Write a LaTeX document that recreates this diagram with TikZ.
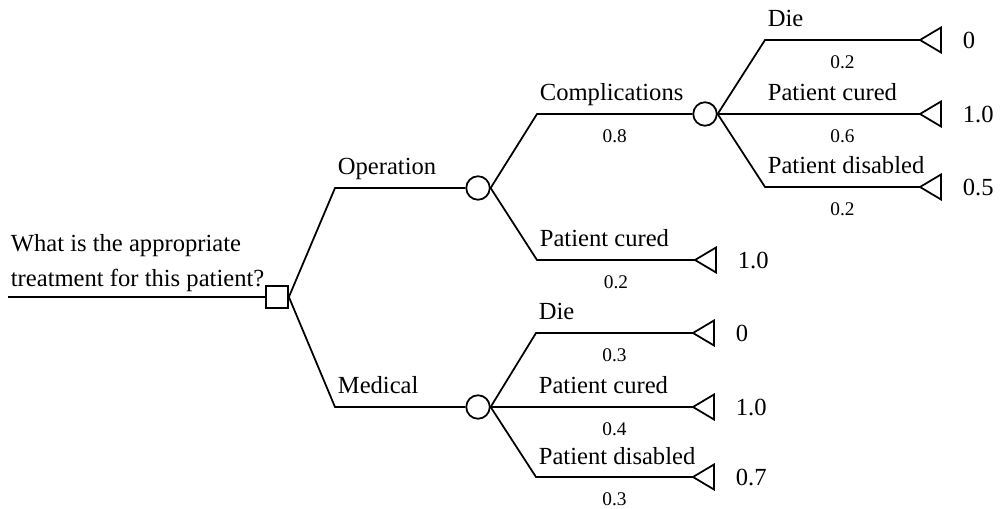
\documentclass[tikz,border=0pt]{standalone}
\usepackage{fontspec}
\setmainfont{Liberation Serif}
\usetikzlibrary{calc}
\tikzset{
  decision/.style={draw, rectangle, minimum size=0.44cm, inner sep=0pt},
  chance/.style={draw, circle, minimum size=0.47cm, inner sep=0pt},
  branchtext/.style={anchor=base west, inner sep=0pt, font=\fontsize{14}{17}\selectfont},
  proba/.style={anchor=north, inner sep=0pt, yshift=-8.5pt, font=\fontsize{11}{13}\selectfont},
  payoff/.style={anchor=west, inner sep=0pt, font=\fontsize{14}{17}\selectfont},
}

\begin{document}
\begin{tikzpicture}[x=0.02cm, y=-0.02cm, line width=1pt]
            \useasboundingbox (0,0) rectangle (1000,509);
            % decision
            \coordinate (start) at (8,297);
            \node[decision] (d) at (277,297) {};
            \draw (start) -- (d.west);
            \node[branchtext] (q1) at (10,252) {What is the appropriate};
            \node[branchtext] (q2) at (10,287) {treatment for this patient?};
            % first level
            \coordinate (op) at (335,188);
            \coordinate (med) at (335,407);
            \node[chance] (c1) at (478,188) {};
            \node[chance] (c3) at (478,407) {};
            \draw (d.east) -- (op) -- (c1);
            \draw (d.east) -- (med) -- (c3);
            \node[branchtext] (nop) at ($(op)+(2,-13)$) {Operation};
            \node[branchtext] (nmed) at ($(med)+(2,-13)$) {Medical};
            % complications
            \coordinate (comp) at (537,114);
            \node[chance] (c2) at (705,114) {};
            \draw (c1.east) -- (comp) -- node[proba] (pcomp) {0.8} (c2);
            \node[branchtext] (ncomp) at ($(comp)+(2,-13)$) {Complications};
            % outcomes
            \foreach \src/\bx/\by/\tx/\txt/\p/\v [count=\i] in {
                c2/765/40/920/Die/0.2/0,
                c2/765/114/920/Patient cured/0.6/1.0,
                c2/765/187/920/Patient disabled/0.2/0.5,
                c1/537/260/695/Patient cured/0.2/1.0,
                c3/536/333/693/Die/0.3/0,
                c3/536/407/693/Patient cured/0.4/1.0,
                c3/536/477/693/Patient disabled/0.3/0.7} {
                \coordinate (b\i) at (\bx,\by);
                \coordinate (t\i) at (\tx,\by);
                \draw (\src.east) -- (b\i) -- node[proba] (p\i) {\p} (t\i);
                \draw (t\i) -- ++(21,-12.5) -- ++(0,25) -- cycle;
                \node[branchtext] (n\i) at ($(b\i)+(2,-13)$) {\txt};
                \node[payoff] (v\i) at ($(t\i)+(42,0)$) {\v};
            }
        \end{tikzpicture}
\end{document}
